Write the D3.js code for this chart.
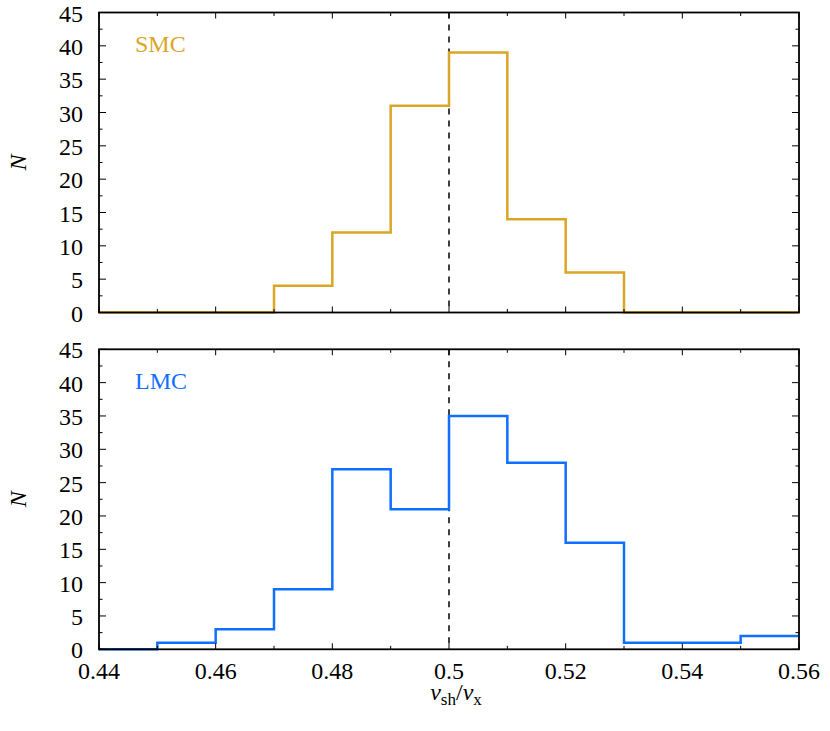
<!DOCTYPE html>
<html><head><meta charset="utf-8">
<script src="https://cdn.jsdelivr.net/npm/d3@7"></script>
<style>body{margin:0;background:#fff}</style>
</head><body><svg id="c" width="830" height="731"></svg>
<script>
const binEdges = [0.44,0.45,0.46,0.47,0.48,0.49,0.50,0.51,0.52,0.53,0.54,0.55,0.56];
const smcCounts = [0,0,0,4,12,31,39,14,6,0,0,0];
const lmcCounts = [0,1,3,9,27,21,35,28,16,1,1,2];
const xTicks = [0.44,0.46,0.48,0.50,0.52,0.54,0.56];
const xTickLabels = ["0.44","0.46","0.48","0.5","0.52","0.54","0.56"];
const xMinorTicks = [0.45,0.47,0.49,0.51,0.53,0.55];
const yTicks = [0,5,10,15,20,25,30,35,40,45];
const yMinorTicks = [2.5,7.5,12.5,17.5,22.5,27.5,32.5,37.5,42.5];
const panels = [
  {name:"SMC", counts:smcCounts, color:"#dba526", top:12.5},
  {name:"LMC", counts:lmcCounts, color:"#0f6fff", top:349.3}
];
const FF = "Liberation Serif";
const FS = 24;
const svg = d3.select("#c");
const L = 99, R = 799, H = 300;
const x = d3.scaleLinear().domain([0.44,0.56]).range([L,R]);

panels.forEach((p,pi)=>{
  const y = d3.scaleLinear().domain([0,45]).range([p.top+H,p.top]);
  const g = svg.append("g");
  const pts = [];
  p.counts.forEach((c,i)=>{pts.push([binEdges[i],c]);pts.push([binEdges[i+1],c]);});
  const line = d3.line().x(d=>x(d[0])).y(d=>y(d[1]));
  g.append("line").attr("x1",x(0.5)).attr("x2",x(0.5)).attr("y1",y(45)).attr("y2",y(0))
    .attr("stroke","#000").attr("stroke-width",1.5).attr("stroke-dasharray","6,6");
  g.append("path").attr("d",line(pts)).attr("fill","none").attr("stroke",p.color).attr("stroke-width",2.5);
  const tk = (xx1,yy1,xx2,yy2)=>g.append("line").attr("x1",xx1).attr("y1",yy1).attr("x2",xx2).attr("y2",yy2).attr("stroke","#000").attr("stroke-width",1);
  xTicks.forEach(v=>{tk(x(v),y(0),x(v),y(0)-6);tk(x(v),y(45),x(v),y(45)+6);});
  xMinorTicks.forEach(v=>{tk(x(v),y(0),x(v),y(0)-3.5);tk(x(v),y(45),x(v),y(45)+3.5);});
  yTicks.forEach(v=>{tk(L,y(v),L+7,y(v));tk(R,y(v),R-7,y(v));});
  yMinorTicks.forEach(v=>{tk(L,y(v),L+3.5,y(v));tk(R,y(v),R-3.5,y(v));});
  g.append("rect").attr("x",L).attr("y",p.top).attr("width",R-L).attr("height",H)
    .attr("fill","none").attr("stroke","#000").attr("stroke-width",1.8);
  yTicks.forEach(v=>{
    g.append("text").attr("x",L-16).attr("y",y(v)).attr("dy","0.38em").attr("text-anchor","end")
      .attr("font-family",FF).attr("font-size",FS).text(v);
  });
  g.append("text").attr("transform",`translate(26,${p.top+H/2}) rotate(-90)`).attr("text-anchor","middle")
    .attr("font-family",FF).attr("font-size",FS).attr("font-style","italic").text("N");
  g.append("text").attr("x",135).attr("y",p.top+39.5).attr("font-family",FF).attr("font-size",FS).attr("fill",p.color).text(p.name);
  if(pi===1){
    xTicks.forEach((v,i)=>{
      g.append("text").attr("x",x(v)).attr("y",y(0)+30).attr("text-anchor","middle").attr("font-family",FF).attr("font-size",FS).text(xTickLabels[i]);
    });
    const t = g.append("text").attr("x",456).attr("y",700).attr("text-anchor","middle").attr("font-family",FF).attr("font-size",FS);
    t.append("tspan").attr("font-style","italic").text("ν");
    t.append("tspan").attr("font-size",17).attr("dy",5).text("sh");
    t.append("tspan").attr("dy",-5).text("/");
    t.append("tspan").attr("font-style","italic").text("ν");
    t.append("tspan").attr("font-size",17).attr("dy",5).text("x");
  }
});
</script></body></html>
